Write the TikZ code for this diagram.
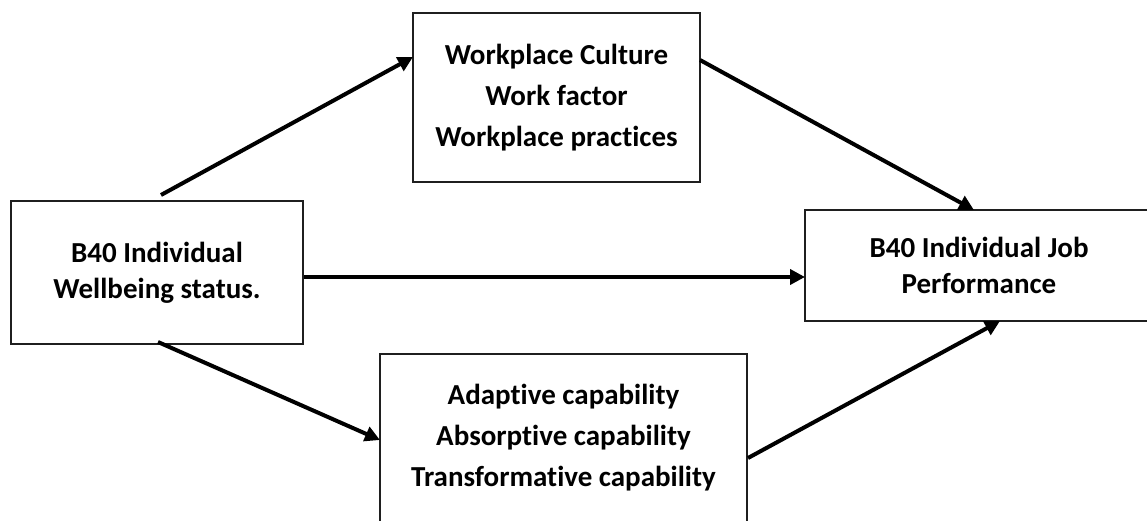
\documentclass[tikz,border=0pt]{standalone}
\usepackage{fontspec}
\setmainfont{Carlito}[Ligatures=NoCommon]
\usetikzlibrary{arrows.meta}
\tikzset{
  box/.style={draw=black!88, line width=2pt, align=center, inner sep=0pt, outer sep=0pt,
    font=\fontsize{29}{41}\selectfont\bfseries},
  tightbox/.style={box, font=\fontsize{29}{36}\selectfont\bfseries},
  arr/.style={line width=4pt, -{Triangle[length=15pt,width=15pt]}}
}
\begin{document}
\begin{tikzpicture}[x=1pt,y=-1pt]
\useasboundingbox (0,0) rectangle (1147,520);
\clip (0,0) rectangle (1147,520);
\node[box, minimum width=287pt, minimum height=169pt] (T) at (556.5,97.5)
  {Workplace Culture\\Work factor\\Workplace practices};
\node[tightbox, minimum width=292pt, minimum height=143pt] (L) at (157,272.5)
  {B40 Individual\\Wellbeing status.};
\node[tightbox, minimum width=348pt, minimum height=111pt] (R) at (979,265.5)
  {B40 Individual Job\\Performance};
\node[box, minimum width=367pt, minimum height=168pt] (B) at (563.5,438)
  {Adaptive capability\\Absorptive capability\\Transformative capability};
\draw[arr] ([shift={(4,-6)}]L.north) -- ([shift={(0,-40.5)}]T.west);
\draw[arr] ([shift={(0,-37.5)}]T.east) -- ([shift={(-5,0)}]R.north);
\draw[arr] ([shift={(1,4.5)}]L.east) -- ([shift={(0,11.5)}]R.west);
\draw[arr] ([shift={(1,-2)}]L.south) -- ([shift={(0,2)}]B.west);
\draw[arr] ([shift={(1,20)}]B.east) -- ([shift={(21,0)}]R.south);
\end{tikzpicture}
\end{document}
